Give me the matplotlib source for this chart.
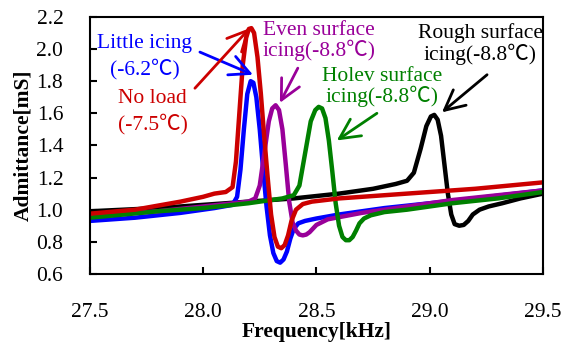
import numpy as np
import matplotlib
matplotlib.use("Agg")
import matplotlib.pyplot as plt

plt.rcParams['font.family'] = ['Liberation Serif', 'Noto Sans CJK JP', 'DejaVu Serif']

# frequency [kHz] / admittance [mS]
f_little = [27.5,27.7,27.9,28.05,28.13,28.15,28.165,28.18,28.195,28.21,28.222,28.235,28.25,28.265,28.28,28.295,28.31,28.325,28.34,28.355,28.37,28.385,28.40,28.42,28.45,28.5,28.6,28.8,29.0,29.2,29.5]
y_little = [0.93,0.95,0.98,1.01,1.03,1.08,1.25,1.50,1.72,1.80,1.79,1.70,1.50,1.25,1.02,0.84,0.73,0.68,0.67,0.69,0.74,0.82,0.88,0.915,0.93,0.945,0.97,1.01,1.04,1.07,1.12]

f_noload = [27.5,27.7,27.9,28.0,28.05,28.1,28.13,28.145,28.16,28.175,28.19,28.202,28.213,28.225,28.24,28.255,28.27,28.285,28.30,28.315,28.33,28.345,28.36,28.375,28.39,28.41,28.44,28.48,28.6,28.8,29.0,29.2,29.5]
y_noload = [0.975,1.0,1.05,1.08,1.10,1.11,1.14,1.30,1.60,1.90,2.07,2.125,2.13,2.10,1.95,1.72,1.45,1.20,0.97,0.83,0.77,0.76,0.78,0.84,0.93,1.00,1.035,1.05,1.07,1.09,1.11,1.13,1.17]

f_even = [27.5,27.8,28.0,28.2,28.23,28.25,28.27,28.29,28.305,28.32,28.335,28.35,28.365,28.38,28.395,28.41,28.425,28.44,28.455,28.47,28.5,28.55,28.7,28.9,29.1,29.3,29.5]
y_even = [0.96,0.99,1.02,1.05,1.07,1.15,1.35,1.55,1.63,1.65,1.62,1.50,1.28,1.05,0.92,0.87,0.845,0.84,0.845,0.86,0.905,0.94,0.98,1.02,1.06,1.09,1.12]

f_holev = [27.5,27.8,28.0,28.2,28.35,28.40,28.425,28.45,28.475,28.495,28.51,28.525,28.54,28.555,28.57,28.585,28.60,28.615,28.63,28.645,28.66,28.675,28.69,28.71,28.74,28.8,28.9,29.1,29.3,29.5]
y_holev = [0.95,0.99,1.01,1.04,1.07,1.09,1.15,1.35,1.55,1.62,1.64,1.63,1.57,1.43,1.24,1.04,0.90,0.83,0.81,0.81,0.83,0.87,0.915,0.945,0.965,0.985,1.00,1.04,1.07,1.11]

f_rough = [27.5,27.8,28.0,28.2,28.4,28.6,28.75,28.85,28.9,28.93,28.96,28.985,29.005,29.02,29.035,29.05,29.065,29.08,29.095,29.11,29.13,29.15,29.17,29.19,29.22,29.26,29.32,29.4,29.5]
y_rough = [0.99,1.01,1.03,1.05,1.07,1.10,1.13,1.16,1.18,1.23,1.38,1.52,1.58,1.59,1.56,1.46,1.28,1.10,0.97,0.91,0.90,0.905,0.93,0.97,1.00,1.02,1.04,1.07,1.10]

fig = plt.figure(figsize=(5.61, 3.45), dpi=100)
ax = fig.add_axes([0.160, 0.206, 0.808, 0.745])

lw = 3.2
kw = dict(lw=lw, solid_joinstyle='round', solid_capstyle='round')
ax.plot(f_rough, y_rough, color='black', **kw)
ax.plot(f_little, y_little, color='#0000ff', **kw)
ax.plot(f_even, y_even, color='#990099', **kw)
ax.plot(f_holev, y_holev, color='#008000', **kw)
ax.plot(f_noload, y_noload, color='#cc0000', **kw)

ax.set_xlim(27.5, 29.5)
ax.set_ylim(0.6, 2.2)
ax.set_xticks(np.arange(27.5, 29.51, 0.5))
ax.set_yticks(np.arange(0.6, 2.21, 0.2))
ax.set_xticklabels(['27.5', '28.0', '28.5', '29.0', '29.5'])
ax.set_yticklabels(['0.6', '0.8', '1.0', '1.2', '1.4', '1.6', '1.8', '2.0', '2.2'])
ax.tick_params(direction='in', length=5, width=1.5, labelsize=15.5, pad=19)
ax.tick_params(axis='x', pad=21)
for s in ax.spines.values():
    s.set_linewidth(1.5)

ax.set_xlabel('Frequency[kHz]', fontsize=15.5, fontweight='bold', labelpad=0)
ax.set_ylabel('Admittance[mS]', fontsize=15.5, fontweight='bold', labelpad=2)

fs = 15.5
ax.text(27.743, 1.95, 'Little icing\n(-6.2℃)', color='#0000ff', fontsize=fs,
        ha='center', va='center', linespacing=1.35)
ax.text(27.778, 1.61, 'No load\n(-7.5℃)', color='#cc0000', fontsize=fs,
        ha='center', va='center', linespacing=1.35)
ax.text(28.511, 2.05, 'Even surface\nicing(-8.8℃)', color='#990099', fontsize=fs,
        ha='center', va='center', linespacing=1.0)
ax.text(28.789, 1.765, 'Holev surface\nicing(-8.8℃)', color='#008000', fontsize=fs,
        ha='center', va='center', linespacing=1.0)
ax.text(29.222, 2.03, 'Rough surface\nicing(-8.8℃)', color='black', fontsize=fs,
        ha='center', va='center', linespacing=1.0)

def arrow(tail, head, c):
    ax.annotate('', xy=head, xytext=tail,
                arrowprops=dict(arrowstyle='->,head_length=0.9,head_width=0.45',
                                lw=2, color=c, shrinkA=0, shrinkB=0,
                                mutation_scale=16))

arrow((27.986, 1.981), (28.22, 1.84), '#0000ff')
arrow((27.964, 1.756), (28.206, 2.13), '#cc0000')
arrow((28.418, 1.881), (28.339, 1.665), '#990099')
arrow((28.767, 1.60), (28.59, 1.431), '#008000')
arrow((29.253, 1.84), (29.054, 1.606), 'black')

fig.savefig('out.png', dpi=100)
